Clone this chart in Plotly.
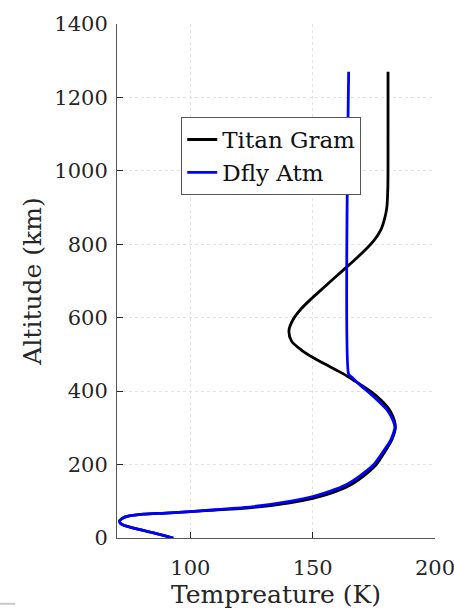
import plotly.graph_objects as go

# Titan Gram profile (temperature K, altitude km)
gram_temp = [180.8, 180.8, 180.7, 180.3, 179.4, 177.9, 175.0, 170.3, 164.9, 160.0, 155.0, 150.0,
             145.4, 142.0, 140.3, 141.3, 145.4, 151.0, 156.9, 162.0, 166.4, 170.5, 174.0, 178.0,
             181.5, 183.4, 183.8, 182.5, 179.5, 176.0, 171.0, 164.8, 157.5, 150.0, 140.0, 125.0,
             110.0, 100.0, 90.0, 80.9, 75.0, 72.0, 71.0, 72.0, 76.8, 85.0, 93.0]
gram_alt = [1270, 1100, 950, 900, 870, 840, 810, 777, 744, 715, 685, 655,
            625, 595, 565, 537, 512, 488, 467, 449, 431, 414, 398, 375,
            348, 320, 300, 270, 235, 200, 170, 142, 122, 108, 95, 83,
            76, 72, 68, 65, 60, 53, 45, 37, 27, 14, 0]

# Dfly Atm profile
dfly_temp = [164.7, 164.7, 166.0, 168.0, 170.0, 172.5, 176.5, 180.5, 183.0, 183.6, 182.0, 178.5,
             175.0, 169.5, 163.7, 157.0, 150.1, 140.0, 125.0, 110.0, 100.0, 90.0, 80.9, 75.0,
             72.0, 71.0, 72.0, 76.8, 85.0, 93.0]
dfly_alt = [1270, 446, 438, 425, 413, 399, 375, 348, 318, 300, 268, 232,
            200, 170, 145, 127, 113, 99, 85, 77, 72, 68, 65, 60,
            53, 45, 37, 27, 14, 0]

x_ticks = [100, 150, 200]
y_ticks = [0, 200, 400, 600, 800, 1000, 1200, 1400]

FONT = "DejaVu Serif"
AX = "#262626"

fig = go.Figure()
fig.add_trace(go.Scatter(x=gram_temp, y=gram_alt, mode="lines", name="Titan Gram",
                         line=dict(color="black", width=2.8, shape="spline", smoothing=0.9)))
fig.add_trace(go.Scatter(x=dfly_temp, y=dfly_alt, mode="lines", name="Dfly Atm",
                         line=dict(color="#0000ff", width=2.8, shape="spline", smoothing=0.5)))

axis_common = dict(
    showline=True, linecolor="#555555", linewidth=1, mirror=False,
    ticks="inside", ticklen=6, tickcolor=AX, tickwidth=1,
    showgrid=True, gridcolor="#e2e2e2", griddash="dot", gridwidth=1,
    zeroline=False, tickfont=dict(family=FONT, size=21, color=AX),
    ticklabeloverflow="allow", automargin=False,
)

fig.update_layout(
    width=454, height=609,
    margin=dict(l=117, r=19, t=24, b=71),
    paper_bgcolor="white", plot_bgcolor="white",
    font=dict(family=FONT, size=21, color=AX),
    xaxis=dict(range=[70, 200], tickvals=x_ticks, ticklabelstandoff=11,
               title=dict(text="Tempreature (K)", font=dict(family=FONT, size=25, color=AX), standoff=3),
               **axis_common),
    yaxis=dict(range=[0, 1400], tickvals=y_ticks, ticklabelstandoff=4,
               title=dict(text="Altitude (km)", font=dict(family=FONT, size=25, color=AX), standoff=5),
               **axis_common),
    legend=dict(x=0.202, y=0.819, xanchor="left", yanchor="top",
                bgcolor="white", bordercolor="#555555", borderwidth=1,
                font=dict(family=FONT, size=23, color="#111111"),
                tracegroupgap=0, itemwidth=30),
    showlegend=True,
    shapes=[dict(type="line", xref="paper", yref="paper", x0=-0.368, x1=-0.32,
                 y0=-0.128, y1=-0.128, line=dict(color="#c8c8c8", width=2))],
)

fig.write_html("out.html")
